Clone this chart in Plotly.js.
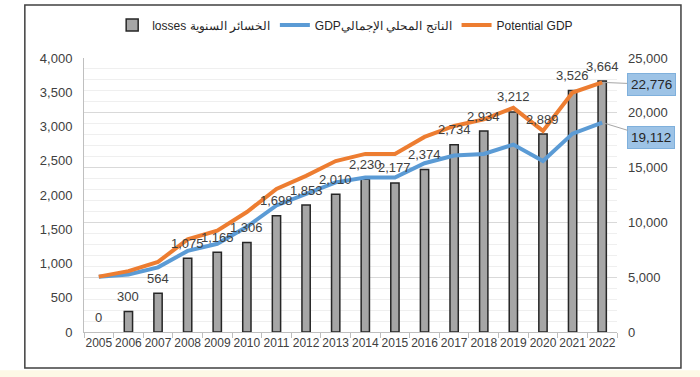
<!DOCTYPE html>
<html>
<head>
<meta charset="utf-8">
<script src="https://cdn.plot.ly/plotly-3.0.1.min.js"></script>
<style>html,body{margin:0;padding:0;background:#fff;}#chart{width:700px;height:377px;}</style>
</head>
<body>
<div id="chart"></div>
<script>
const years = ['2005','2006','2007','2008','2009','2010','2011','2012','2013','2014','2015','2016','2017','2018','2019','2020','2021','2022'];
const losses = [0,300,564,1075,1165,1306,1698,1853,2010,2230,2177,2374,2734,2934,3212,2889,3526,3664];
const gdp = [5050,5250,5900,7400,8050,9600,11550,12600,13650,14100,14100,15400,16100,16250,17100,15600,18100,19112];
const potentialGdp = [5050,5550,6400,8450,9250,10950,13050,14250,15600,16250,16250,17800,18800,19400,20450,18350,21850,22776];
const lossesName = 'losses الخسائر السنوية';
const gdpName = 'GDPالناتج المحلي الإجمالي';
const potName = 'Potential GDP';

const FONT = 'Liberation Sans, Arial, sans-serif';
const TXT = '#404040';

// bar points given last-year-first so the legend swatch takes an outlined bar's style
const barX = years.slice().reverse();
const barY = losses.slice().reverse();

const traces = [
  {type:'bar', x:barX, y:barY, name:lossesName, yaxis:'y', width:0.28,
   marker:{color:'#a6a6a6', line:{color:'#262626', width:barY.map(v => v > 0 ? 1.5 : 0)}}, hoverinfo:'x+y'},
  {type:'scatter', mode:'lines', x:years, y:gdp, name:gdpName, yaxis:'y2',
   line:{color:'#5b9bd5', width:4}},
  {type:'scatter', mode:'lines', x:years, y:potentialGdp, name:potName, yaxis:'y2',
   line:{color:'#ed7d31', width:4}}
];

const annotations = years.map((yr,i)=>({
  x:i, y:losses[i], xref:'x', yref:'y', text:losses[i].toLocaleString('en-US'),
  showarrow:false, yshift:15, font:{family:FONT, size:13, color:TXT}
}));
const last = years.length-1;
annotations.push({
  x:last, y:potentialGdp[last], xref:'x', yref:'y2',
  text:potentialGdp[last].toLocaleString('en-US'), showarrow:true, arrowhead:0,
  arrowcolor:'#a6a6a6', arrowwidth:1, ax:49, ay:2, standoff:3,
  bgcolor:'#9dc3e6', bordercolor:'#7fb0dc', borderwidth:1, borderpad:3,
  font:{family:FONT, size:13.5, color:'#262626'}
});
annotations.push({
  x:last, y:gdp[last], xref:'x', yref:'y2',
  text:gdp[last].toLocaleString('en-US'), showarrow:true, arrowhead:0,
  arrowcolor:'#a6a6a6', arrowwidth:1, ax:49, ay:15, standoff:3,
  bgcolor:'#9dc3e6', bordercolor:'#7fb0dc', borderwidth:1, borderpad:3,
  font:{family:FONT, size:13.5, color:'#262626'}
});

const layout = {
  width:700, height:377,
  margin:{l:84, r:83, t:57, b:45},
  paper_bgcolor:'#ffffff', plot_bgcolor:'rgba(0,0,0,0)',
  font:{family:FONT, size:13, color:TXT},
  showlegend:true,
  legend:{orientation:'h', x:0.49, xanchor:'center', y:1.116, yanchor:'middle',
    font:{family:FONT, size:12, color:'#262626'}, bgcolor:'rgba(0,0,0,0)', traceorder:'normal'},
  bargap:0.72,
  xaxis:{type:'category', categoryorder:'array', categoryarray:years, range:[-0.5, years.length-0.5],
    autorange:false, showline:true, linecolor:'#bfbfbf', linewidth:1,
    ticks:'outside', tickson:'boundaries', ticklen:5, tickcolor:'#bfbfbf',
    tickangle:0, tickfont:{family:FONT, size:12, color:TXT}, showgrid:false},
  yaxis:{range:[0,4000], dtick:500, tickformat:',d', showgrid:false, zeroline:false,
    showline:true, linecolor:'#bfbfbf', linewidth:1, ticks:'', ticklabelstandoff:8,
    tickfont:{family:FONT, size:13, color:TXT}},
  yaxis2:{range:[0,25000], dtick:5000, tickformat:',d', overlaying:'y', side:'right',
    showgrid:true, gridcolor:'#d9d9d9', gridwidth:1, zeroline:false, showline:false,
    ticks:'', ticklabelstandoff:10, tickfont:{family:FONT, size:13, color:TXT},
    minor:{dtick:1000, showgrid:true, gridcolor:'#efefef', gridwidth:1}},
  annotations:annotations,
  shapes:[
    {type:'rect', xref:'paper', yref:'paper', x0:-0.111, x1:1.12, y0:-0.131, y1:1.193,
     line:{color:'#404040', width:1.5}, fillcolor:'rgba(0,0,0,0)', layer:'below'},
    {type:'rect', xref:'paper', yref:'paper', x0:-0.16, x1:1.16, y0:-0.14, y1:-0.17,
     line:{width:0}, fillcolor:'#fdf8e6', layer:'below'}
  ]
};

Plotly.newPlot('chart', traces, layout, {displayModeBar:false, staticPlot:true});
</script>
</body>
</html>
